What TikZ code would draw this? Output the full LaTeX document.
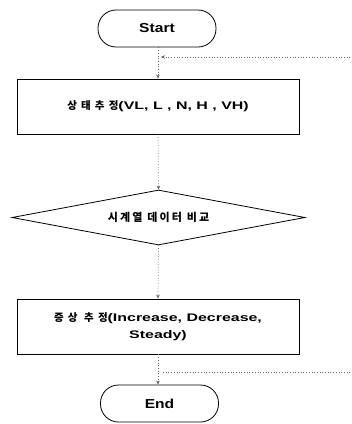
\documentclass[tikz,border=0pt]{standalone}
\usepackage{fontspec}
\setmainfont{Liberation Sans}
\newfontfamily\latw{Liberation Sans}[FakeStretch=1.45]
\newfontfamily\latt{Liberation Sans}[FakeStretch=1.2]
\newfontfamily\kr{Noto Sans CJK KR}[LetterSpace=40]
\newfontfamily\krd{Noto Sans CJK KR}[LetterSpace=20]
\usetikzlibrary{shapes.geometric,arrows.meta}
\begin{document}
\begin{tikzpicture}[x=1pt,y=1pt,
  term/.style={draw=black,line width=0.8pt,rounded corners=18pt,minimum width=118pt,minimum height=37pt,inner sep=0pt,font=\latt\bfseries\fontsize{13}{15}\selectfont},
  procbox/.style={draw=black,line width=0.8pt,minimum width=282pt,minimum height=55pt,inner sep=0pt,align=center,font=\latw\bfseries\fontsize{11}{17}\selectfont},
  decbox/.style={draw=black,line width=0.8pt,diamond,aspect=5.33,minimum width=293pt,minimum height=55pt,inner sep=0pt,font=\krd\bfseries\fontsize{11}{13}\selectfont},
  conn/.style={draw=gray!80!black,dotted,line width=0.7pt},
  arr/.style={conn,-{Stealth[length=4pt,width=3.5pt,fill=black]}}
]
\useasboundingbox (0,0) rectangle (352,-424);
\node[term] (start) at (157,-28.5) {Start};
\node[procbox] (box1) at (158,-106.5) {{\kr\fontsize{10.5}{17}\selectfont 상태추정}(VL, L , N, H , VH)};
\node[decbox] (dec) at (158.5,-217.5) {시계열 데이터 비교};
\node[procbox] (box2) at (158,-326.5) {{\kr\fontsize{10.5}{17}\selectfont 증상 추정}(Increase, Decrease,\\Steady)};
\node[term] (end) at (159.5,-403.5) {End};
\coordinate (in1) at (350,-57);
\coordinate (j1) at (161,-57);
\coordinate (in2) at (350,-372);
\coordinate (j2) at (161,-372);
\draw[arr] (start.south -| 158,0) -- (box1.north -| 158,0);
\draw[arr] (in1) -- (j1);
\draw[arr] (box1.south -| 158,0) -- (dec.north);
\draw[arr] (dec.south) -- (box2.north -| 158,0);
\draw[arr] (box2.south -| 158,0) -- (end.north -| 158,0);
\draw[conn] (in2) -- (j2);
\end{tikzpicture}
\end{document}
